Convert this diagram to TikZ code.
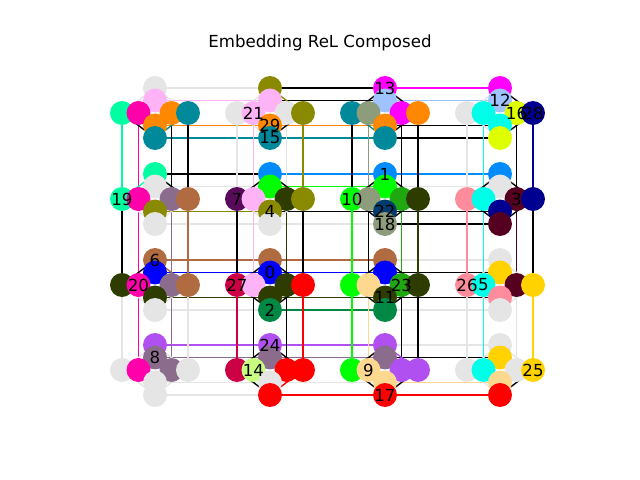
\documentclass[tikz,border=0pt]{standalone}
\usepackage{fontspec}
\setmainfont{DejaVu Sans}
\usetikzlibrary{backgrounds,calc}

\definecolor{lgray}{HTML}{E5E5E5}
\definecolor{pink}{HTML}{FFB3F7}
\definecolor{mint}{HTML}{00FFA0}
\definecolor{hot}{HTML}{FF00AA}
\definecolor{orange}{HTML}{FF8800}
\definecolor{teal}{HTML}{00899A}
\definecolor{olive}{HTML}{8A8A00}
\definecolor{magenta}{HTML}{FF00FF}
\definecolor{lblue}{HTML}{9FC3FF}
\definecolor{sage}{HTML}{8D9C7A}
\definecolor{cyan}{HTML}{00FFE8}
\definecolor{lime}{HTML}{DDFF00}
\definecolor{navy}{HTML}{000090}
\definecolor{azure}{HTML}{008CFF}
\definecolor{green}{HTML}{00FF00}
\definecolor{mauve}{HTML}{8C6C8C}
\definecolor{brown}{HTML}{B06C40}
\definecolor{plum}{HTML}{5A0A5A}
\definecolor{dolive}{HTML}{2F3C00}
\definecolor{mgreen}{HTML}{20A810}
\definecolor{dnavy}{HTML}{003C6E}
\definecolor{salmon}{HTML}{FF8C9C}
\definecolor{maroon}{HTML}{550020}
\definecolor{blue}{HTML}{0000FF}
\definecolor{crimson}{HTML}{CC0044}
\definecolor{red}{HTML}{FF0000}
\definecolor{jade}{HTML}{008844}
\definecolor{beige}{HTML}{FFD890}
\definecolor{gold}{HTML}{FFD200}
\definecolor{violet}{HTML}{B050F0}
\definecolor{chart}{HTML}{C8FF80}

\tikzset{
  dot/.style={circle, inner sep=0pt, minimum size=17.3pt, draw=none},
  num/.style={inner sep=0pt, font=\fontsize{12}{14}\selectfont},
  link/.style={line width=1pt},
}

% one block of eight nodes: T,U,LL,L,R,RR,D,B
\newcommand{\clus}[4]{%
  \coordinate (#1) at (#2,#3);
  \foreach \p/\dx/\dy [count=\i] in {T/0/-25,U/0/-12.5,LL/-33/0,L/-16.5/0,R/16.5/0,RR/33/0,D/0/12.5,B/0/25}{
    \foreach \col [count=\j] in {#4}{
      \ifnum\i=\j
        \node[dot, fill=\col] (#1\p) at ($(#1)+(\dx,\dy)$) {};
        \expandafter\xdef\csname nc@#1\p\endcsname{\col}%
      \fi
    }
  }
}
\def\grayname{lgray}
\newcommand{\wire}[2]{%
  \edef\ca{\csname nc@#1\endcsname}%
  \edef\cb{\csname nc@#2\endcsname}%
  \def\wcol{black}%
  \ifx\ca\cb \let\wcol\ca \else
    \ifx\ca\grayname \def\wcol{lgray}\fi
    \ifx\cb\grayname \def\wcol{lgray}\fi
  \fi
  \draw[link, draw=\wcol] (#1) -- (#2);}

\begin{document}
\begin{tikzpicture}[x=0.01in, y=-0.01in]
\useasboundingbox (0,0) rectangle (640,480);

\node[num] (title) at (320,43) {Embedding ReL Composed};

\clus{c11}{155}{113}{lgray,pink,mint,hot,orange,teal,orange,teal}
\clus{c12}{270}{113}{olive,pink,lgray,pink,lgray,olive,orange,teal}
\clus{c13}{385}{113}{magenta,lblue,teal,sage,magenta,orange,orange,teal}
\clus{c14}{500}{113}{magenta,lblue,lgray,cyan,lime,navy,cyan,lime}

\clus{c21}{155}{199}{mint,lgray,mint,hot,mauve,brown,olive,lgray}
\clus{c22}{270}{199}{azure,green,plum,pink,dolive,olive,olive,lgray}
\clus{c23}{385}{199}{azure,green,green,sage,mgreen,dolive,dnavy,sage}
\clus{c24}{500}{199}{azure,lgray,salmon,cyan,maroon,navy,navy,maroon}

\clus{c31}{155}{285}{brown,blue,dolive,hot,mauve,brown,dolive,lgray}
\clus{c32}{270}{285}{brown,blue,crimson,pink,dolive,red,dolive,jade}
\clus{c33}{385}{285}{brown,blue,green,beige,mgreen,dolive,dolive,jade}
\clus{c34}{500}{285}{lgray,gold,salmon,cyan,maroon,gold,salmon,lgray}

\clus{c41}{155}{370}{violet,mauve,lgray,hot,mauve,lgray,lgray,lgray}
\clus{c42}{270}{370}{violet,mauve,crimson,chart,red,red,lgray,red}
\clus{c43}{385}{370}{violet,mauve,green,beige,violet,violet,beige,red}
\clus{c44}{500}{370}{lgray,gold,lgray,cyan,lgray,gold,beige,red}

\begin{scope}[on background layer]
  % rows
  \foreach \r in {1,...,4}{
    \foreach \k [evaluate=\k as \n using int(\k+1)] in {1,2,3}{
      \foreach \p in {T,U,D,B}{\wire{c\r\k\p}{c\r\n\p}}
    }
  }
  % columns
  \foreach \k in {1,...,4}{
    \foreach \r [evaluate=\r as \m using int(\r+1)] in {1,2,3}{
      \foreach \p in {LL,L,R,RR}{\wire{c\r\k\p}{c\m\k\p}}
    }
  }
  % inside each block
  \foreach \r in {1,...,4}{
    \foreach \k in {1,...,4}{
      \wire{c\r\k LL}{c\r\k T}
      \wire{c\r\k T}{c\r\k RR}
      \wire{c\r\k RR}{c\r\k B}
      \wire{c\r\k B}{c\r\k LL}
    }
  }
\end{scope}

\foreach \t/\at in {0/c32U,1/c23T,2/c32B,3/c24R,4/c22D,5/c34L,6/c31T,7/c22LL,
  8/c41U,9/c43L,10/c23LL,11/c33D,12/c14U,13/c13T,14/c42L,15/c12B,16/c14R,
  17/c43B,18/c23B,19/c21LL,20/c31L,21/c12L,22/c23D,23/c33R,24/c42T,
  25/c44RR,26/c34LL,27/c32LL,28/c14RR,29/c12D}
  \node[num] (n\t) at (\at) {\t};
\end{tikzpicture}
\end{document}
